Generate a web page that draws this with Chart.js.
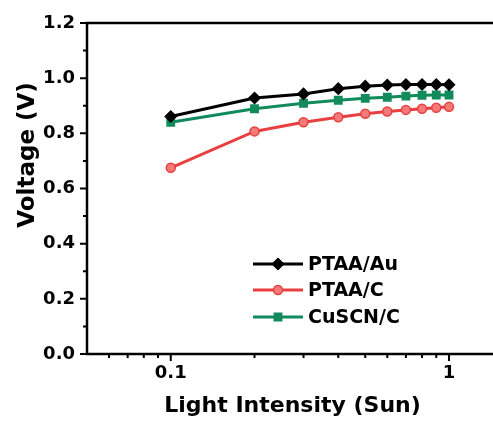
<!DOCTYPE html>
<html>
<head>
<meta charset="utf-8">
<script src="https://cdn.jsdelivr.net/npm/chart.js@4.4.0/dist/chart.umd.min.js"></script>
<style>
  html, body { margin: 0; padding: 0; background: #fff; overflow: hidden; }
  #wrap { position: relative; width: 510px; height: 425px; }
</style>
</head>
<body>
<div id="wrap"><canvas id="chart"></canvas></div>
<script>
// Light intensity (Sun) vs Voc
const intensities = [0.1, 0.2, 0.3, 0.4, 0.5, 0.6, 0.7, 0.8, 0.9, 1.0];
const ptaaAu = [0.861, 0.928, 0.943, 0.962, 0.971, 0.975, 0.977, 0.977, 0.977, 0.976];
const ptaaC  = [0.675, 0.807, 0.840, 0.858, 0.871, 0.879, 0.885, 0.889, 0.893, 0.896];
const cuscnC = [0.840, 0.889, 0.909, 0.920, 0.927, 0.931, 0.935, 0.938, 0.939, 0.939];

const seriesNames = ['PTAA/Au', 'PTAA/C', 'CuSCN/C'];

// ticks
const xMajorTicks = [0.1, 1];
const xMinorTicks = [0.06, 0.07, 0.08, 0.09, 0.2, 0.3, 0.4, 0.5, 0.6, 0.7, 0.8, 0.9];
const yMajorTicks = [0, 0.2, 0.4, 0.6, 0.8, 1.0, 1.2];
const yMinorTicks = [0.1, 0.3, 0.5, 0.7, 0.9, 1.1];

const xTitle = 'Light Intensity (Sun)';
const yTitle = 'Voltage (V)';

const FONT = 'DejaVu Sans';

const styles = [
  { color: '#000000', fill: '#000000', shape: 'rectRot', radius: 5.5 },
  { color: '#ea3f41', fill: '#f47a78', shape: 'circle', radius: 4.5 },
  { color: '#118a5c', fill: '#118a5c', shape: 'rect', radius: 5.2 }
];

const seriesData = [ptaaAu, ptaaC, cuscnC];

function drawMarker(ctx, st, x, y) {
  ctx.save();
  ctx.fillStyle = st.fill;
  ctx.strokeStyle = st.color;
  ctx.lineWidth = 1.5;
  ctx.beginPath();
  if (st.shape === 'rectRot') {
    ctx.moveTo(x, y - st.radius);
    ctx.lineTo(x + st.radius, y);
    ctx.lineTo(x, y + st.radius);
    ctx.lineTo(x - st.radius, y);
    ctx.closePath();
  } else if (st.shape === 'circle') {
    ctx.arc(x, y, st.radius, 0, Math.PI * 2);
  } else {
    const s = st.radius * Math.SQRT1_2;
    ctx.rect(x - s, y - s, 2 * s, 2 * s);
  }
  ctx.fill();
  ctx.stroke();
  ctx.restore();
}

// marco, ticks menores, titulo Y y leyenda
const framePlugin = {
  id: 'frame',
  afterDraw(chart) {
    const ctx = chart.ctx;
    const a = chart.chartArea;
    const xs = chart.scales.x;
    const ys = chart.scales.y;
    ctx.save();
    ctx.strokeStyle = '#000';
    ctx.lineWidth = 2.5;
    ctx.strokeRect(a.left, a.top, a.right - a.left, a.bottom - a.top);

    ctx.lineWidth = 2;
    ctx.beginPath();
    xMajorTicks.forEach(v => {
      const px = xs.getPixelForValue(v);
      ctx.moveTo(px, a.bottom); ctx.lineTo(px, a.bottom + 7);
    });
    xMinorTicks.forEach(v => {
      const px = xs.getPixelForValue(v);
      ctx.moveTo(px, a.bottom); ctx.lineTo(px, a.bottom + 4);
    });
    yMajorTicks.forEach(v => {
      const py = ys.getPixelForValue(v);
      ctx.moveTo(a.left - 7, py); ctx.lineTo(a.left, py);
    });
    yMinorTicks.forEach(v => {
      const py = ys.getPixelForValue(v);
      ctx.moveTo(a.left - 4, py); ctx.lineTo(a.left, py);
    });
    ctx.stroke();

    // titulo eje Y
    ctx.fillStyle = '#000';
    ctx.font = 'bold 23px ' + FONT;
    ctx.textAlign = 'center';
    ctx.textBaseline = 'middle';
    ctx.translate(28, 155);
    ctx.rotate(-Math.PI / 2);
    ctx.fillText(yTitle, 0, 0);
    ctx.restore();

    // leyenda
    ctx.save();
    ctx.font = 'bold 19px ' + FONT;
    ctx.textAlign = 'left';
    ctx.textBaseline = 'middle';
    const rows = [264, 290, 317];
    chart.data.datasets.forEach((ds, i) => {
      const st = styles[i];
      const y = rows[i];
      ctx.strokeStyle = st.color;
      ctx.lineWidth = 3;
      ctx.beginPath();
      ctx.moveTo(253, y); ctx.lineTo(303, y);
      ctx.stroke();
      drawMarker(ctx, st, 278, y);
      ctx.fillStyle = '#000';
      ctx.fillText(ds.label, 308, y + 1);
    });
    ctx.restore();
  }
};

new Chart(document.getElementById('chart'), {
  type: 'line',
  data: {
    datasets: seriesData.map((vals, i) => ({
      label: seriesNames[i],
      data: intensities.map((x, j) => ({ x: x, y: vals[j] })),
      borderColor: styles[i].color,
      backgroundColor: styles[i].fill,
      pointBackgroundColor: styles[i].fill,
      pointBorderColor: styles[i].color,
      pointBorderWidth: 1.5,
      pointStyle: styles[i].shape,
      pointRadius: styles[i].radius,
      borderWidth: 3,
      tension: 0,
      fill: false
    }))
  },
  options: {
    responsive: true,
    maintainAspectRatio: false,
    animation: false,
    layout: { padding: { top: 23, right: 12, left: 0, bottom: 0 } },
    plugins: {
      legend: { display: false },
      tooltip: { enabled: false }
    },
    scales: {
      x: {
        type: 'logarithmic',
        min: 0.05,
        max: 1.5,
        grid: { display: false, drawTicks: false },
        border: { display: false },
        afterBuildTicks: s => { s.ticks = xMajorTicks.map(v => ({ value: v })); },
        afterFit: s => { s.height = 71; },
        ticks: {
          autoSkip: false,
          maxRotation: 0,
          padding: 9,
          color: '#000',
          font: { family: FONT, size: 18, weight: 'bold' },
          callback: v => String(v)
        },
        title: {
          display: true,
          text: xTitle,
          color: '#000',
          font: { family: FONT, size: 22, weight: 'bold' },
          padding: { top: 0, bottom: 6 }
        }
      },
      y: {
        min: 0,
        max: 1.2,
        grid: { display: false, drawTicks: false },
        border: { display: false },
        afterBuildTicks: s => { s.ticks = yMajorTicks.map(v => ({ value: v })); },
        afterFit: s => { s.width = 87; },
        ticks: {
          padding: 12,
          color: '#000',
          font: { family: FONT, size: 18, weight: 'bold' },
          callback: v => v.toFixed(1)
        }
      }
    }
  },
  plugins: [framePlugin]
});
</script>
</body>
</html>
